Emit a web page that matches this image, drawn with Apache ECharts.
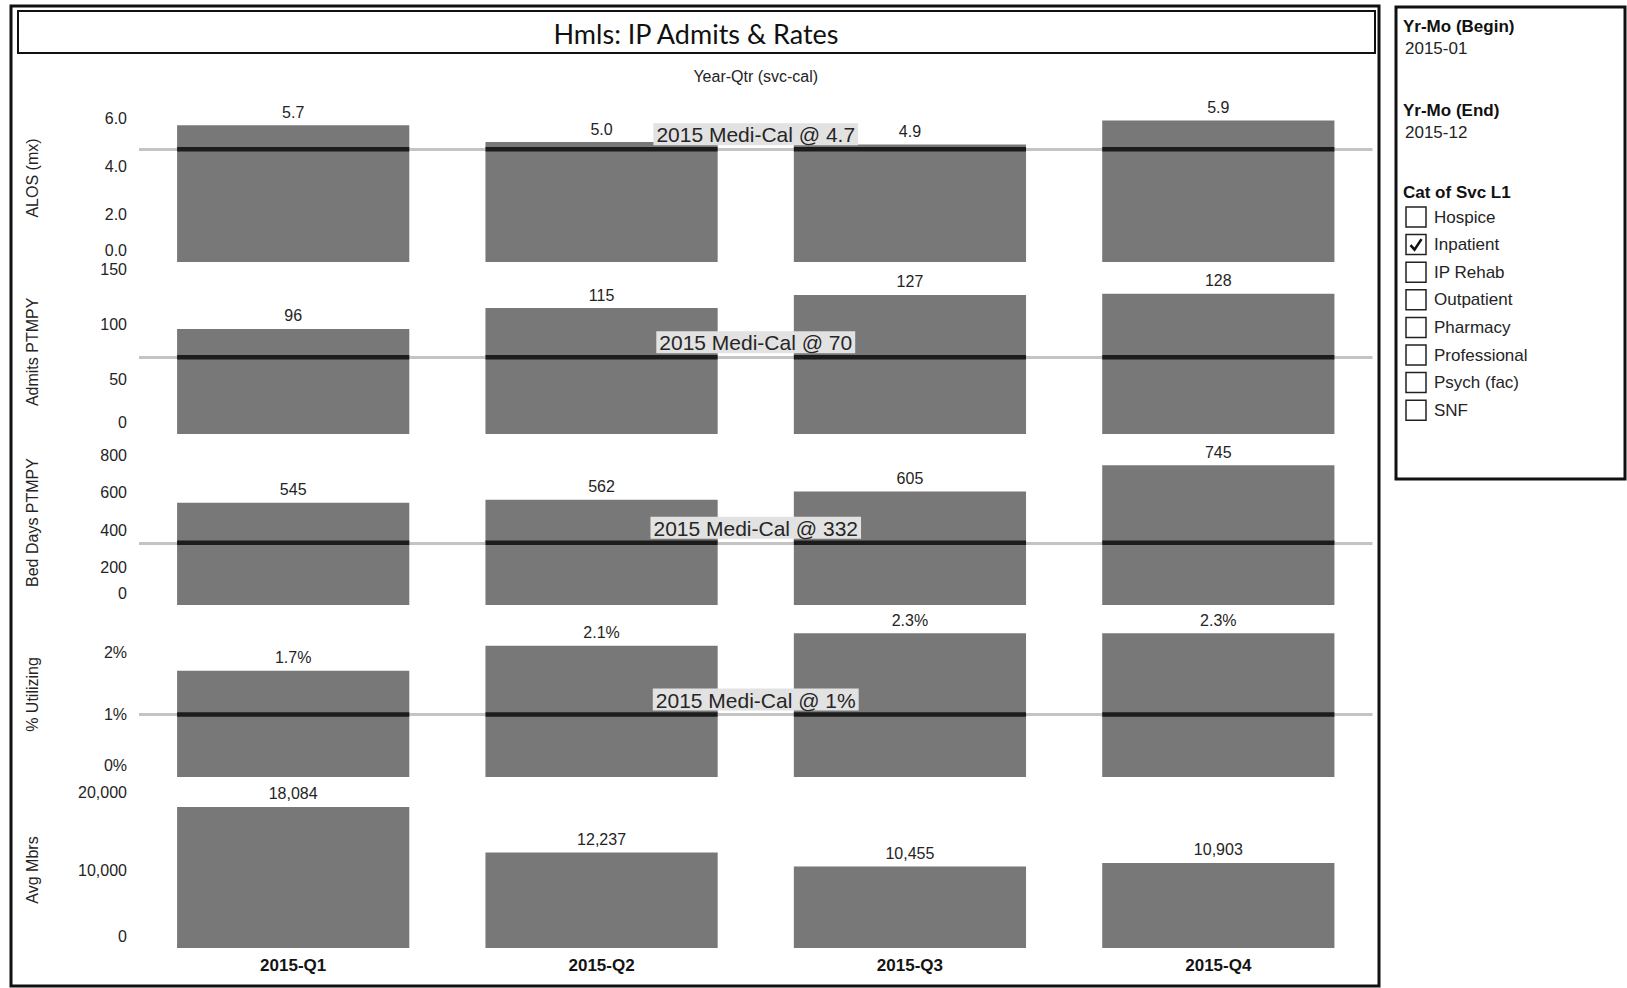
<!DOCTYPE html>
<html>
<head>
<meta charset="utf-8">
<title>Hmls: IP Admits &amp; Rates</title>
<script src="https://cdn.jsdelivr.net/npm/echarts@6/dist/echarts.min.js"></script>
<style>
  html, body { margin: 0; padding: 0; background: #ffffff; }
  #chart { width: 1627px; height: 988px; }
</style>
</head>
<body>
<div id="chart"></div>
<script>
// ---- data ----
const quarters = ['2015-Q1', '2015-Q2', '2015-Q3', '2015-Q4'];
const alos = [5.7, 5.0, 4.9, 5.9];
const admitsPtmpy = [96, 115, 127, 128];
const bedDaysPtmpy = [545, 562, 605, 745];
const pctUtilizing = [1.7, 2.1, 2.3, 2.3];   // percent
const avgMbrs = [18084, 12237, 10455, 10903];

const measureNames = ['ALOS (mx)', 'Admits PTMPY', 'Bed Days PTMPY', '% Utilizing', 'Avg Mbrs'];
// 2015 Medi-Cal benchmark per measure (null = no benchmark)
const mediCal2015 = [4.7, 70, 332, 1, null];
const mediCalText = ['4.7', '70', '332', '1%', null];

const yMax = [7.0, 150, 880, 2.64, 20000];
const yInterval = [2, 50, 200, 1, 10000];

const filterBegin = ['Yr-Mo (Begin)', '2015-01'];
const filterEnd = ['Yr-Mo (End)', '2015-12'];
const serviceCatTitle = 'Cat of Svc L1';
const serviceCats = ['Hospice', 'Inpatient', 'IP Rehab', 'Outpatient', 'Pharmacy', 'Professional', 'Psych (fac)', 'SNF'];
const selectedCats = ['Inpatient'];

const chartTitle = 'Hmls: IP Admits & Rates';
const columnHeader = 'Year-Qtr (svc-cal)';

// ---- formatting ----
const fmtValue = [
  v => v.toFixed(1),
  v => String(Math.round(v)),
  v => String(Math.round(v)),
  v => v.toFixed(1) + '%',
  v => Math.round(v).toLocaleString('en-US')
];
const fmtTick = [
  v => v.toFixed(1),
  v => String(v),
  v => String(v),
  v => v + '%',
  v => v.toLocaleString('en-US')
];
const seriesData = [alos, admitsPtmpy, bedDaysPtmpy, pctUtilizing, avgMbrs];

// ---- layout ----
const FONT = '"Liberation Sans", Arial, sans-serif';
const TEXT = '#242424';
const BAR = '#787878';
const plotLeft = 139;
const plotWidth = 1233.5;
const paneBottoms = [262, 434, 605, 777, 948];
const paneHeights = [168, 164.25, 165, 165, 156];

const grids = [], xAxes = [], yAxes = [], series = [];

for (let i = 0; i < 5; i++) {
  const isLast = i === 4;
  grids.push({
    left: plotLeft,
    width: plotWidth,
    top: paneBottoms[i] - paneHeights[i],
    height: paneHeights[i],
    containLabel: false
  });
  xAxes.push({
    type: 'category',
    gridIndex: i,
    data: quarters,
    axisLine: { show: false },
    axisTick: { show: false },
    splitLine: { show: false },
    axisLabel: {
      show: isLast,
      fontFamily: FONT,
      fontSize: 17,
      fontWeight: 'bold',
      color: '#141414',
      margin: 9
    }
  });
  const tickFmt = fmtTick[i];
  yAxes.push({
    type: 'value',
    gridIndex: i,
    min: 0,
    max: yMax[i],
    interval: yInterval[i],
    axisLine: { show: false },
    axisTick: { show: false },
    splitLine: { show: false },
    name: measureNames[i],
    nameLocation: 'middle',
    nameRotate: 90,
    nameGap: 99,
    nameTextStyle: { fontFamily: FONT, fontSize: 16, color: TEXT },
    axisLabel: {
      fontFamily: FONT,
      fontSize: 16,
      color: TEXT,
      margin: 12,
      showMaxLabel: (yMax[i] % yInterval[i]) === 0,
      formatter: v => (v === 0 ? '{lift|' + tickFmt(v) + '}' : tickFmt(v)),
      rich: {
        lift: { fontFamily: FONT, fontSize: 16, color: TEXT, padding: [0, 0, 23, 0] }
      }
    }
  });

  const bar = {
    type: 'bar',
    xAxisIndex: i,
    yAxisIndex: i,
    data: seriesData[i],
    barWidth: '75.3%',
    itemStyle: { color: BAR },
    z: 2,
    label: {
      show: true,
      position: 'top',
      distance: 5,
      fontFamily: FONT,
      fontSize: 16,
      color: TEXT,
      formatter: p => fmtValue[i](p.value)
    },
    emphasis: { disabled: true }
  };
  if (mediCal2015[i] !== null) {
    bar.markLine = {
      silent: true,
      symbol: 'none',
      z: 3,
      lineStyle: { color: '#c4c4c4', width: 3, type: 'solid' },
      label: {
        show: true,
        position: 'insideMiddleTop',
        distance: 4,
        formatter: '2015 Medi-Cal @ ' + mediCalText[i],
        fontFamily: FONT,
        fontSize: 21,
        color: '#262626',
        backgroundColor: '#e2e2e2',
        padding: [1, 3, 0, 3]
      },
      data: [{ yAxis: mediCal2015[i] }]
    };
    series.push(bar);
    // darker stroke of the benchmark where it crosses each bar
    const ref = mediCal2015[i];
    series.push({
      type: 'custom',
      xAxisIndex: i,
      yAxisIndex: i,
      silent: true,
      z: 6,
      data: quarters.map((q, k) => [k, ref]),
      renderItem: (params, api) => {
        const p = api.coord([api.value(0), api.value(1)]);
        const w = api.size([1, 0])[0] * 0.753;
        return {
          type: 'line',
          shape: { x1: p[0] - w / 2, y1: p[1], x2: p[0] + w / 2, y2: p[1] },
          style: { stroke: '#1c1c1c', lineWidth: 4.5 }
        };
      }
    });
  } else {
    series.push(bar);
  }
}

// ---- frames, titles and the filter panel ----
const graphics = [
  { type: 'rect', shape: { x: 11, y: 6, width: 1368, height: 980 },
    style: { fill: 'none', stroke: '#111', lineWidth: 3 }, silent: true },
  { type: 'rect', shape: { x: 18, y: 11, width: 1357, height: 42 },
    style: { fill: 'none', stroke: '#111', lineWidth: 2 }, silent: true },
  { type: 'text', x: 696, y: 33,
    style: { text: chartTitle, fontFamily: 'Lato, "DejaVu Sans", sans-serif', fontSize: 27,
             fill: '#111', align: 'center', verticalAlign: 'middle' } },
  { type: 'text', x: plotLeft + plotWidth / 2, y: 76,
    style: { text: columnHeader, fontFamily: FONT, fontSize: 16, fill: TEXT,
             align: 'center', verticalAlign: 'middle' } },
  { type: 'rect', shape: { x: 1396, y: 7, width: 229, height: 472 },
    style: { fill: 'none', stroke: '#111', lineWidth: 3 }, silent: true }
];

function panelText(txt, x, y, bold) {
  return {
    type: 'text', x: x, y: y,
    style: { text: txt, fontFamily: FONT, fontSize: 17, fontWeight: bold ? 'bold' : 'normal',
             fill: bold ? '#111' : TEXT, align: 'left', verticalAlign: 'middle' }
  };
}
graphics.push(panelText(filterBegin[0], 1403, 26, true));
graphics.push(panelText(filterBegin[1], 1405, 48, false));
graphics.push(panelText(filterEnd[0], 1403, 110, true));
graphics.push(panelText(filterEnd[1], 1405, 132, false));
graphics.push(panelText(serviceCatTitle, 1403, 192, true));

serviceCats.forEach((cat, k) => {
  const cy = 217 + k * 27.6;
  graphics.push({ type: 'rect', shape: { x: 1406, y: cy - 10, width: 20, height: 20 },
    style: { fill: '#fff', stroke: '#222', lineWidth: 1.5 }, silent: true });
  if (selectedCats.includes(cat)) {
    graphics.push({ type: 'polyline',
      shape: { points: [[1410.5, cy + 0.5], [1414.5, cy + 5], [1421.5, cy - 5.5]] },
      style: { fill: 'none', stroke: '#111', lineWidth: 2.6 }, silent: true });
  }
  graphics.push(panelText(cat, 1434, cy, false));
});

const chart = echarts.init(document.getElementById('chart'), null, { renderer: 'svg' });
chart.setOption({
  backgroundColor: '#ffffff',
  animation: false,
  textStyle: { fontFamily: FONT },
  grid: grids,
  xAxis: xAxes,
  yAxis: yAxes,
  series: series,
  graphic: graphics
});
</script>
</body>
</html>
